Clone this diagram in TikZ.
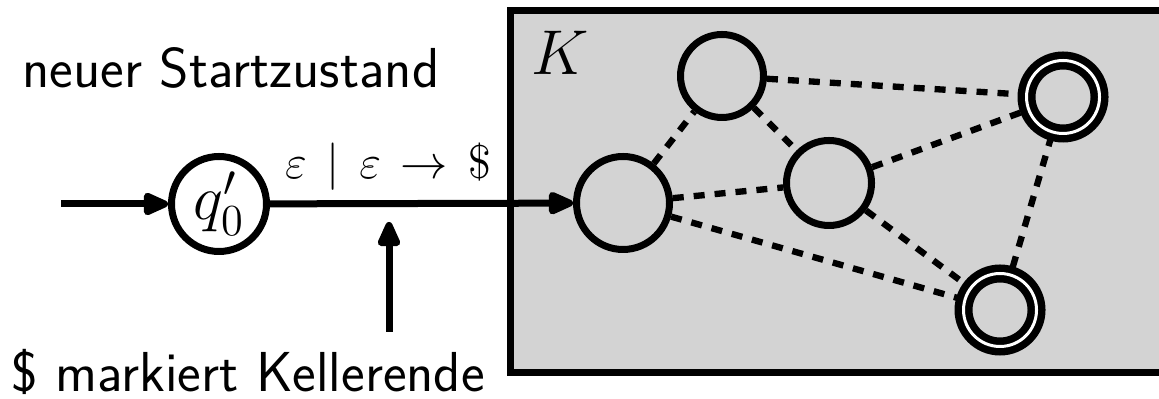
\RequirePackage{fix-cm}
\documentclass[tikz,border=0pt]{standalone}
\usepackage{fontspec}
\usetikzlibrary{arrows.meta}
\definecolor{kgray}{RGB}{211,211,211}
\tikzset{
  st/.style={circle,draw,line width=2.1pt,inner sep=0pt},
  acc/.style={circle,draw,line width=2.25pt,double,double distance=0.9pt,inner sep=0pt,minimum size=21.9pt},
  dsh/.style={line width=1.9pt,dash pattern=on 3.3pt off 3pt},
  arr/.style={line width=2.1pt,-{Triangle[length=9pt,width=7.2pt,round]}},
  lbl/.style={font=\fontsize{16.9}{20}\selectfont\sffamily,anchor=base,inner sep=0pt},
}
\begin{document}
\begin{tikzpicture}[x=0.3pt,y=-0.3pt]
\useasboundingbox (0,0) rectangle (1159,399);
\clip (0,0) rectangle (1159,399);
\draw[fill=kgray,line width=2.1pt] (510,11) rectangle (1180,373);
\node[font=\fontsize{19}{22}\selectfont,anchor=base,inner sep=0pt] (K) at (560,75) {$K$};
\node[st,minimum size=28.5pt] (q0) at (219,204) {\fontsize{19}{22}\selectfont$q_0'$};
\node[st,minimum size=27.9pt] (A) at (623,203) {};
\node[st,minimum size=24.9pt] (B) at (722,76) {};
\node[st,minimum size=25.5pt] (C) at (829,183) {};
\node[acc] (D) at (1063,97) {};
\node[acc] (E) at (1000,310) {};
\coordinate (s) at (61,204);
\coordinate (u1) at (389,332);
\coordinate (u2) at (389,222);
\draw[arr] (s) -- (q0);
\draw[arr] (q0) -- node[pos=0.39,font=\fontsize{14.2}{17}\selectfont,above=3pt,inner sep=0pt] (el) {$\varepsilon\mkern2.5mu\mid\mkern2.5mu\varepsilon\mkern2.5mu\rightarrow\mkern2.5mu\$$} (A);
\draw[arr] (u1) -- (u2);
\draw[dsh] (A) -- (B);
\draw[dsh] (A) -- (C);
\draw[dsh] (A) -- (E);
\draw[dsh] (B) -- (C);
\draw[dsh] (B) -- (D);
\draw[dsh] (C) -- (D);
\draw[dsh] (C) -- (E);
\draw[dsh] (D) -- (E);
\node[lbl] (t1) at (231,88) {neuer Startzustand};
\node[lbl] (t2) at (248,392) {\$ markiert Kellerende};
\end{tikzpicture}
\end{document}
